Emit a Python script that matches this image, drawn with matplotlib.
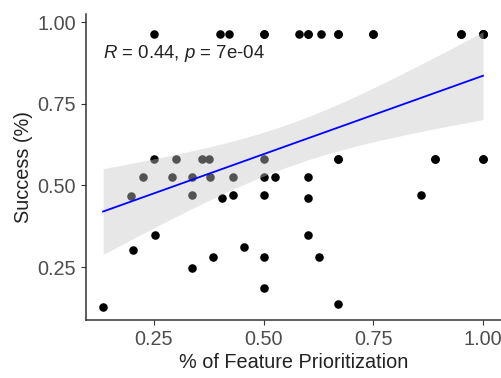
import numpy as np
import matplotlib
matplotlib.use('Agg')
import matplotlib.pyplot as plt

# values; R and p in the label imply ~56 points,
# so some points sit exactly on top of others (repeated below)
feat_prio = [0.25, 0.40, 0.42, 0.50, 0.58, 0.60, 0.63, 0.67, 0.75, 0.95, 1.00,
             1.00, 1.00, 1.00, 0.95, 0.75, 0.67, 0.60, 0.50,
             0.25, 0.30, 0.36, 0.375, 0.50, 0.67, 0.89, 1.00,
             0.67, 0.89, 1.00,
             0.226, 0.29, 0.336, 0.378, 0.43, 0.50, 0.526, 0.60,
             0.197, 0.337, 0.404, 0.43, 0.50, 0.60, 0.859,
             0.60, 0.627, 0.669, 0.252, 0.201, 0.337, 0.385, 0.455, 0.50, 0.50, 0.134]
success = [0.962, 0.962, 0.962, 0.962, 0.962, 0.962, 0.962, 0.962, 0.962, 0.962, 0.962,
           0.962, 0.962, 0.962, 0.962, 0.962, 0.962, 0.962, 0.962,
           0.58, 0.58, 0.58, 0.58, 0.58, 0.58, 0.58, 0.58,
           0.58, 0.58, 0.58,
           0.525, 0.525, 0.525, 0.525, 0.525, 0.525, 0.525, 0.525,
           0.466, 0.471, 0.461, 0.471, 0.471, 0.461, 0.471,
           0.348, 0.282, 0.136, 0.348, 0.302, 0.246, 0.282, 0.312, 0.282, 0.185, 0.128]
x_ticks = [0.25, 0.50, 0.75, 1.00]
y_ticks = [0.25, 0.50, 0.75, 1.00]
cor_label = r'$R$ = 0.44, $p$ = 7e-04'

plt.rcParams['font.family'] = ['Liberation Sans', 'DejaVu Sans']
plt.rcParams['mathtext.fontset'] = 'custom'
plt.rcParams['mathtext.rm'] = 'Liberation Sans'
plt.rcParams['mathtext.it'] = 'Liberation Sans:italic'

x = np.array(feat_prio)
y = np.array(success)

# linear fit with 95% confidence band (like geom_smooth(method = "lm"))
n = len(x)
slope, icpt = np.polyfit(x, y, 1)
resid = y - (slope * x + icpt)
s = np.sqrt(np.sum(resid ** 2) / (n - 2))
xs = np.linspace(x.min(), x.max(), 80)
se = s * np.sqrt(1 / n + (xs - x.mean()) ** 2 / np.sum((x - x.mean()) ** 2))
tval = 2.005  # t(0.975, df ~ 54)
fit = slope * xs + icpt

fig = plt.figure(figsize=(5.01, 3.78), dpi=100)
ax = fig.add_axes([86 / 501, 58 / 378, 415 / 501, 306 / 378])

ax.scatter(x, y, s=38, color='black', linewidths=0, zorder=2)
ax.fill_between(xs, fit - tval * se, fit + tval * se, color='#C8C8C8', alpha=0.42,
                linewidth=0, zorder=3)
ax.plot(xs, fit, color='#0000FF', lw=1.3, zorder=4)

ax.text(x.min(), 0.905, cor_label, fontsize=13.4, color='#222222', va='center', ha='left')

ax.set_xlim(0.095, 1.041)
ax.set_ylim(0.0878, 1.0245)
ax.set_xticks(x_ticks)
ax.set_yticks(y_ticks)
ax.set_xticklabels([f'{t:.2f}' for t in x_ticks])
ax.set_yticklabels([f'{t:.2f}' for t in y_ticks])

for side in ['top', 'right']:
    ax.spines[side].set_visible(False)
for side in ['left', 'bottom']:
    ax.spines[side].set_color('#333333')
    ax.spines[side].set_linewidth(1.1)
ax.tick_params(length=3.6, width=0.8, color='#333333', labelcolor='#4D4D4D',
               labelsize=14.3, pad=3.5)

ax.set_xlabel('% of Feature Prioritization', fontsize=14.3, color='#222222', labelpad=3)
ax.set_ylabel('Success (%)', fontsize=14.3, color='#222222', labelpad=3)

fig.savefig('out.png', dpi=100)
